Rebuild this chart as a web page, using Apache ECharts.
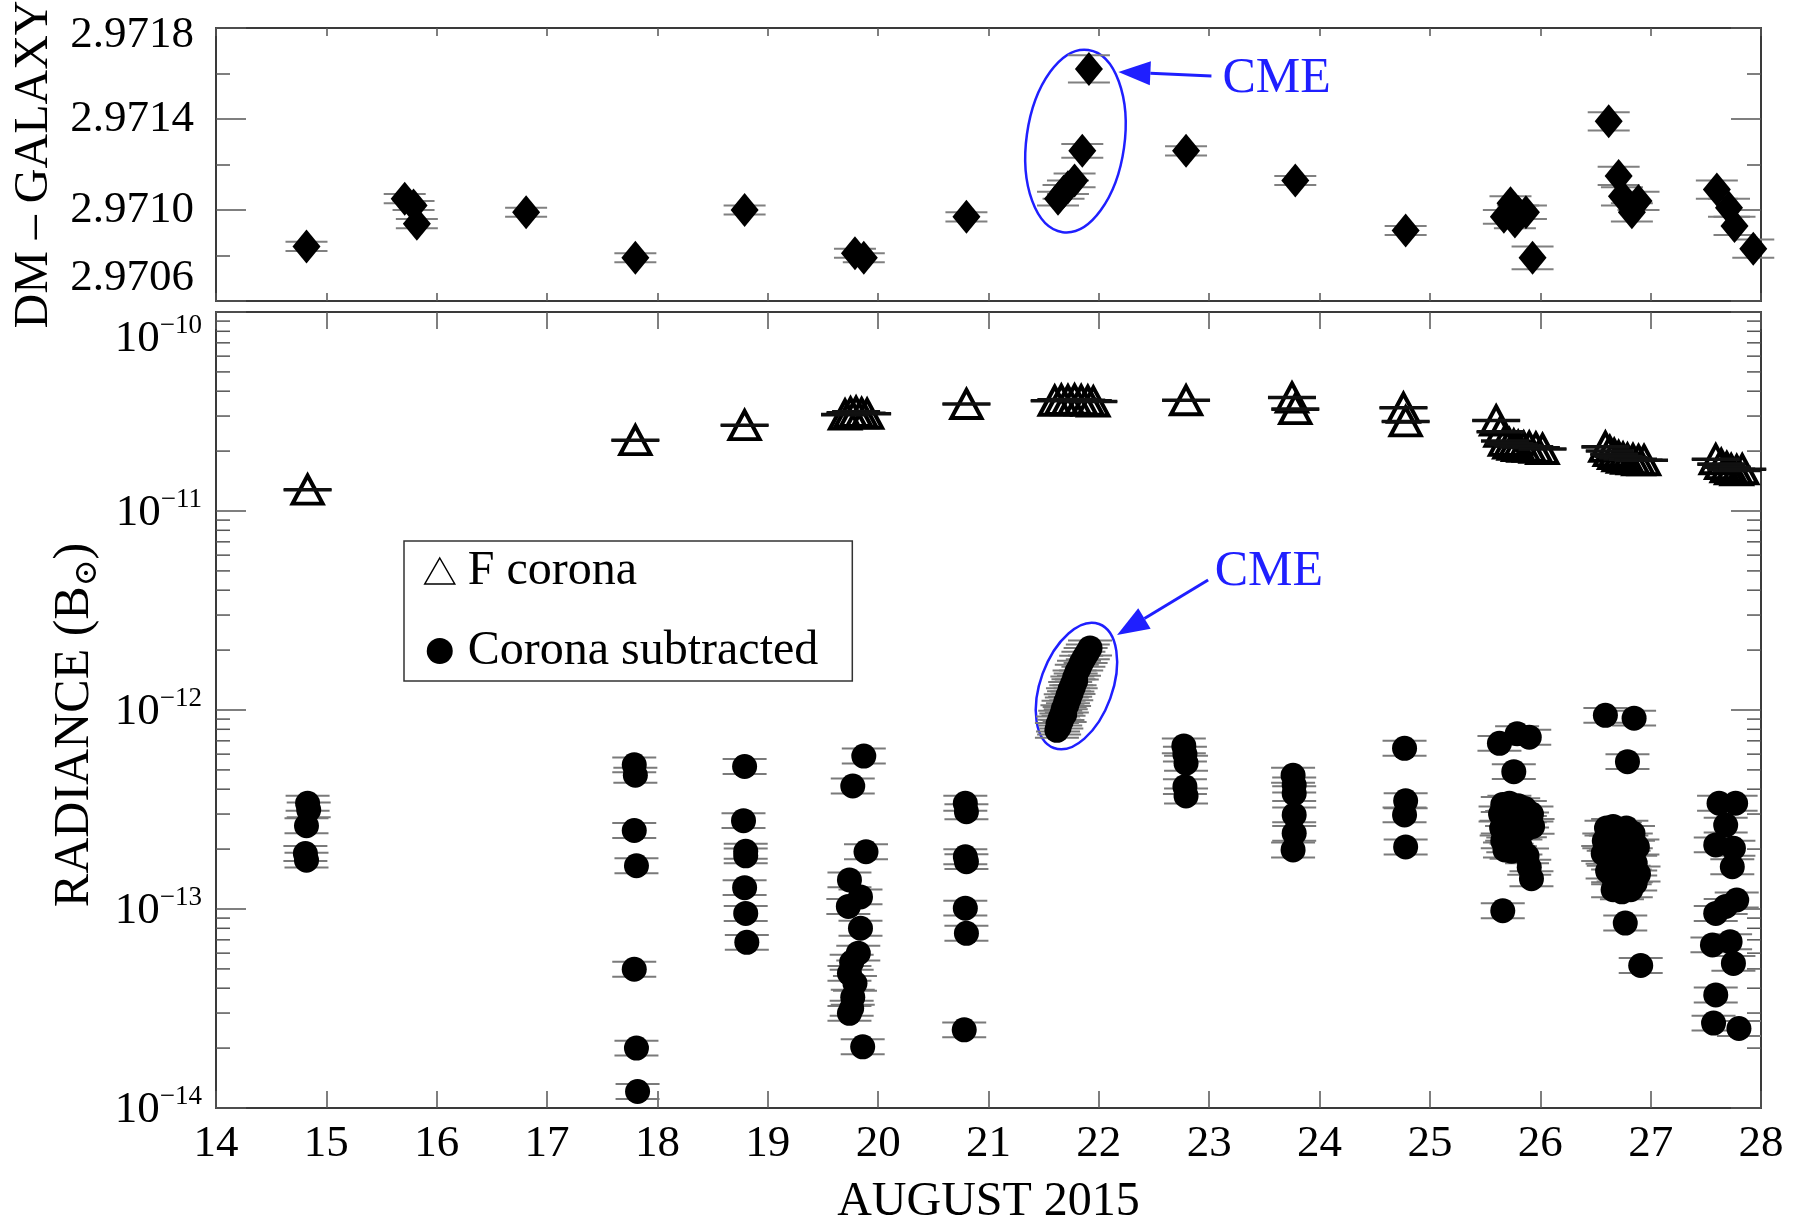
<!DOCTYPE html>
<html><head><meta charset="utf-8">
<script src="https://cdn.jsdelivr.net/npm/echarts@6/dist/echarts.min.js"></script>
<style>html,body{margin:0;padding:0;background:#fff}#c{width:1798px;height:1225px}</style>
</head><body><div id="c"></div>
<script>
// ---------------- data ----------------
const X_MIN = 14, X_MAX = 28;
const DM_TICKS = [2.9706, 2.9710, 2.9714, 2.9718];
const DM_BASE = 2.9706, DM_SCALE = 1e4;
// [day, DM - galaxy, error]
const DM_POINTS = [
  [14.82, 2.97084, 0.00002], [15.71, 2.97105, 0.00002], [15.79, 2.97102, 0.00002], [15.82, 2.97094, 0.00002],
  [16.81, 2.97099, 0.00002], [17.80, 2.97079, 0.00002], [18.79, 2.97100, 0.00002], [19.79, 2.97081, 0.00002],
  [19.87, 2.97079, 0.00002], [20.80, 2.97097, 0.00002],
  [21.63, 2.97105, 0.00003], [21.68, 2.97108, 0.00003], [21.72, 2.97110, 0.00003], [21.78, 2.97113, 0.00003],
  [21.85, 2.97126, 0.00003], [21.91, 2.97162, 0.00006],
  [22.79, 2.97126, 0.00002], [23.78, 2.97113, 0.00002], [24.78, 2.97091, 0.00002],
  [25.67, 2.97097, 0.00003], [25.73, 2.97103, 0.00003], [25.77, 2.97095, 0.00003], [25.80, 2.97099, 0.00003],
  [25.87, 2.97099, 0.00003], [25.93, 2.97079, 0.00005],
  [26.62, 2.97139, 0.00004], [26.71, 2.97115, 0.00004], [26.74, 2.97106, 0.00004], [26.83, 2.97099, 0.00004],
  [26.89, 2.97104, 0.00004],
  [27.60, 2.97109, 0.00004], [27.71, 2.97101, 0.00004], [27.76, 2.97093, 0.00004], [27.93, 2.97083, 0.00004]
];
// F corona [day, radiance]
const FC_POINTS = [
  [14.83, 1.28e-11], [17.80, 2.27e-11], [18.79, 2.70e-11],
  [19.70, 3.05e-11], [19.75, 3.12e-11], [19.80, 3.15e-11], [19.85, 3.10e-11], [19.90, 3.08e-11],
  [20.80, 3.45e-11],
  [21.60, 3.58e-11], [21.66, 3.62e-11], [21.72, 3.60e-11], [21.78, 3.63e-11], [21.84, 3.60e-11], [21.90, 3.58e-11], [21.95, 3.55e-11],
  [22.79, 3.60e-11],
  [23.75, 3.72e-11], [23.78, 3.25e-11],
  [24.76, 3.30e-11], [24.78, 2.82e-11],
  [25.60, 2.85e-11], [25.64, 2.50e-11], [25.68, 2.25e-11], [25.72, 2.18e-11], [25.76, 2.15e-11], [25.80, 2.12e-11],
  [25.85, 2.10e-11], [25.90, 2.10e-11], [25.96, 2.08e-11], [26.02, 2.05e-11],
  [26.59, 2.10e-11], [26.63, 2.00e-11], [26.67, 1.93e-11], [26.71, 1.88e-11], [26.75, 1.85e-11], [26.79, 1.83e-11],
  [26.84, 1.82e-11], [26.89, 1.80e-11], [26.94, 1.80e-11],
  [27.59, 1.82e-11], [27.64, 1.72e-11], [27.69, 1.66e-11], [27.73, 1.62e-11], [27.78, 1.60e-11], [27.83, 1.62e-11]
];
// Corona subtracted [day, radiance]
const CS_POINTS = [
  [14.83, 3.40e-13], [14.84, 3.15e-13], [14.82, 2.62e-13], [14.81, 1.90e-13], [14.82, 1.76e-13],
  [17.79, 5.3e-13], [17.80, 4.7e-13], [17.79, 2.48e-13], [17.81, 1.65e-13], [17.79, 4.98e-14], [17.81, 2.0e-14], [17.82, 1.21e-14],
  [18.79, 5.2e-13], [18.78, 2.78e-13], [18.80, 1.95e-13], [18.80, 1.85e-13], [18.79, 1.28e-13], [18.80, 9.5e-14], [18.81, 6.8e-14],
  [19.87, 5.87e-13], [19.77, 4.15e-13], [19.89, 1.94e-13], [19.74, 1.40e-13], [19.84, 1.15e-13], [19.73, 1.03e-13],
  [19.84, 8.0e-14], [19.82, 6.0e-14], [19.76, 5.4e-14], [19.74, 4.75e-14], [19.79, 4.23e-14], [19.77, 3.6e-14],
  [19.76, 3.17e-14], [19.74, 2.99e-14], [19.86, 2.03e-14],
  [20.79, 3.40e-13], [20.80, 3.08e-13], [20.79, 1.83e-13], [20.80, 1.73e-13], [20.79, 1.01e-13], [20.80, 7.55e-14], [20.78, 2.47e-14],
  [21.62, 7.9e-13], [21.63, 8.5e-13], [21.64, 8.2e-13], [21.65, 9.1e-13], [21.66, 8.8e-13], [21.67, 9.7e-13],
  [21.68, 1.02e-12], [21.69, 9.5e-13], [21.70, 1.10e-12], [21.71, 1.06e-12], [21.72, 1.18e-12], [21.73, 1.14e-12],
  [21.74, 1.27e-12], [21.75, 1.22e-12], [21.76, 1.35e-12], [21.77, 1.31e-12], [21.78, 1.45e-12], [21.79, 1.40e-12],
  [21.80, 1.55e-12], [21.82, 1.62e-12], [21.84, 1.72e-12], [21.86, 1.80e-12], [21.88, 1.88e-12], [21.90, 1.96e-12], [21.92, 2.05e-12],
  [22.77, 6.6e-13], [22.78, 6.0e-13], [22.79, 5.4e-13], [22.78, 4.12e-13], [22.79, 3.7e-13],
  [23.76, 4.7e-13], [23.77, 4.2e-13], [23.77, 3.8e-13], [23.77, 2.97e-13], [23.77, 2.4e-13], [23.76, 1.98e-13],
  [24.77, 6.42e-13], [24.78, 3.5e-13], [24.77, 2.97e-13], [24.78, 2.05e-13],
  [25.63, 6.8e-13], [25.79, 7.6e-13], [25.90, 7.3e-13], [25.76, 4.9e-13],
  [25.66, 3.35e-13], [25.72, 3.4e-13], [25.80, 3.3e-13], [25.86, 3.2e-13], [25.92, 3.0e-13],
  [25.64, 3.0e-13], [25.70, 2.85e-13], [25.76, 2.95e-13], [25.82, 2.75e-13], [25.88, 2.8e-13],
  [25.65, 2.55e-13], [25.70, 2.4e-13], [25.75, 2.6e-13], [25.80, 2.45e-13], [25.86, 2.5e-13], [25.93, 2.6e-13],
  [25.66, 2.2e-13], [25.71, 2.1e-13], [25.77, 2.25e-13], [25.82, 2.05e-13], [25.68, 1.98e-13], [25.74, 1.95e-13],
  [25.88, 1.85e-13], [25.90, 1.62e-13], [25.92, 1.42e-13], [25.66, 9.8e-14],
  [26.59, 9.4e-13], [26.85, 9.1e-13], [26.79, 5.5e-13],
  [26.60, 2.55e-13], [26.66, 2.6e-13], [26.72, 2.5e-13], [26.78, 2.55e-13], [26.84, 2.4e-13],
  [26.58, 2.2e-13], [26.64, 2.15e-13], [26.70, 2.25e-13], [26.76, 2.1e-13], [26.82, 2.2e-13], [26.88, 2.05e-13],
  [26.57, 1.9e-13], [26.62, 1.8e-13], [26.68, 1.85e-13], [26.74, 1.75e-13], [26.80, 1.8e-13], [26.86, 1.7e-13],
  [26.61, 1.55e-13], [26.66, 1.45e-13], [26.71, 1.5e-13], [26.76, 1.4e-13], [26.81, 1.45e-13], [26.86, 1.35e-13], [26.89, 1.5e-13],
  [26.66, 1.25e-13], [26.74, 1.22e-13], [26.82, 1.25e-13], [26.77, 8.5e-14], [26.91, 5.2e-14],
  [27.62, 3.4e-13], [27.77, 3.4e-13], [27.68, 2.64e-13], [27.59, 2.1e-13], [27.75, 2.02e-13], [27.74, 1.63e-13],
  [27.78, 1.11e-13], [27.59, 9.5e-14], [27.68, 1.03e-13], [27.56, 6.6e-14], [27.72, 6.85e-14], [27.75, 5.33e-14],
  [27.59, 3.7e-14], [27.57, 2.67e-14], [27.80, 2.51e-14]
];
const CS_ERR_FACTOR = 1.09;
const FC_ERR_FACTOR = 1.006;
const RAD_MIN = 1e-14, RAD_MAX = 1e-10;
const LOG_MINOR = [2e-14,3e-14,4e-14,5e-14,6e-14,7e-14,8e-14,9e-14,
  2e-13,3e-13,4e-13,5e-13,6e-13,7e-13,8e-13,9e-13,
  2e-12,3e-12,4e-12,5e-12,6e-12,7e-12,8e-12,9e-12,
  2e-11,3e-11,4e-11,5e-11,6e-11,7e-11,8e-11,9e-11];
// annotation anchors (data coordinates)
const CME_TOP = { center: [21.788, 2.971303], tail: [23.02, 2.971589], tip: [22.177, 2.971607], text: [23.12, 2.971575] };
const CME_BOT = { center: [21.797, 1.32e-12], tail: [22.99, 4.5e-12], tip: [22.165, 2.38e-12], text: [23.05, 4.95e-12] };

// ---------------- chart ----------------
const FONT = '"Liberation Serif", "DejaVu Serif", serif';
const BLUE = '#1f1fff';
const AX = '#3a3a3a';
const TICK_FS = 45, TITLE_FS = 48;
const tDM = v => (v - DM_BASE) * DM_SCALE;

const chart = echarts.init(document.getElementById('c'), null, { renderer: 'canvas' });

function capSeries(name, xi, yi, data, hw, color, lw, z) {
  return {
    type: 'custom', name, xAxisIndex: xi, yAxisIndex: yi, z, silent: true, clip: false,
    data,
    renderItem: function (params, api) {
      const x = api.value(0);
      const a = api.coord([x, api.value(1)]);
      const b = api.coord([x, api.value(2)]);
      const st = { stroke: color, lineWidth: lw };
      return { type: 'group', children: [
        { type: 'line', shape: { x1: a[0] - hw, y1: a[1], x2: a[0] + hw, y2: a[1] }, style: st },
        { type: 'line', shape: { x1: b[0] - hw, y1: b[1], x2: b[0] + hw, y2: b[1] }, style: st }
      ]};
    }
  };
}

const xBase = {
  type: 'value', min: X_MIN, max: X_MAX, interval: 1,
  axisLine: { show: true, onZero: false, lineStyle: { color: AX, width: 2 } },
  splitLine: { show: false }
};
function xAxisDef(grid, pos, tickLen, labels) {
  return Object.assign({}, xBase, {
    gridIndex: grid, position: pos,
    axisTick: { show: true, inside: true, length: tickLen, lineStyle: { color: '#555', width: 1.5 } },
    axisLabel: labels ? { show: true, color: '#000', fontFamily: FONT, fontSize: TICK_FS, margin: 14,
      showMinLabel: true, showMaxLabel: true } : { show: false }
  });
}
const dmY = {
  type: 'value', min: 0, max: tDM(2.9718), interval: 4,
  axisLine: { show: true, onZero: false, lineStyle: { color: AX, width: 2 } },
  axisTick: { show: true, inside: true, length: 30, lineStyle: { color: '#555', width: 1.5 } },
  minorTick: { show: true, splitNumber: 2, length: 14, lineStyle: { color: '#555', width: 1.5 } },
  splitLine: { show: false }, minorSplitLine: { show: false }
};
const radY = {
  type: 'log', logBase: 10, min: RAD_MIN, max: RAD_MAX,
  axisLine: { show: true, onZero: false, lineStyle: { color: AX, width: 2 } },
  axisTick: { show: true, inside: true, length: 30, lineStyle: { color: '#555', width: 1.5 } },
  splitLine: { show: false }
};

const option = {
  animation: false,
  backgroundColor: '#fff',
  grid: [
    { left: 216, right: 37, top: 28, height: 273, outerBoundsMode: 'none', containLabel: false },
    { left: 216, right: 37, top: 312, height: 796, outerBoundsMode: 'none', containLabel: false }
  ],
  xAxis: [
    xAxisDef(0, 'bottom', 8, false),
    xAxisDef(0, 'top', 8, false),
    Object.assign(xAxisDef(1, 'bottom', 17, true), {
      name: 'AUGUST 2015', nameLocation: 'middle', nameGap: 70,
      nameTextStyle: { color: '#000', fontFamily: FONT, fontSize: TITLE_FS }
    }),
    xAxisDef(1, 'top', 17, false)
  ],
  yAxis: [
    Object.assign({}, dmY, {
      gridIndex: 0, position: 'left',
      axisLabel: { show: true, color: '#000', fontFamily: FONT, fontSize: TICK_FS, margin: 22,
        showMinLabel: true, showMaxLabel: true, verticalAlignMinLabel: 'bottom',
        formatter: v => {
          const t = DM_TICKS.find(k => Math.abs(tDM(k) - v) < 1e-6);
          if (t === undefined) return '';
          return t === DM_TICKS[DM_TICKS.length - 1] ? '{m|' + t.toFixed(4) + '}' : t.toFixed(4);
        },
        rich: { m: { fontFamily: FONT, fontSize: TICK_FS, color: '#000', padding: [14, 0, 0, 0] } } },
      name: 'DM \u2013 GALAXY', nameLocation: 'middle', nameRotate: 90, nameGap: 158,
      nameTextStyle: { color: '#000', fontFamily: FONT, fontSize: TITLE_FS }
    }),
    Object.assign({}, dmY, { gridIndex: 0, position: 'right', axisLabel: { show: false } }),
    Object.assign({}, radY, {
      gridIndex: 1, position: 'left',
      axisLabel: { show: true, color: '#000', fontFamily: FONT, fontSize: TICK_FS, margin: 14,
        showMinLabel: true, showMaxLabel: true, verticalAlignMaxLabel: 'top',
        formatter: v => '{b|10}{s|\u2212' + Math.abs(Math.round(Math.log10(v))) + '}',
        rich: {
          b: { fontFamily: FONT, fontSize: TICK_FS, color: '#000', lineHeight: 50, verticalAlign: 'bottom' },
          s: { fontFamily: FONT, fontSize: 27, color: '#000', lineHeight: 50, verticalAlign: 'top', padding: [0, 0, 18, 0] }
        } },
      name: '{t|RADIANCE (B}{s|\u2299}{e|)}', nameLocation: 'middle', nameRotate: 90, nameGap: 112,
      nameTextStyle: { color: '#000', fontFamily: FONT, fontSize: 50,
        rich: { t: { fontFamily: FONT, fontSize: 50, color: '#000', lineHeight: 58 },
                e: { fontFamily: FONT, fontSize: 50, color: '#000', lineHeight: 58, padding: [0, 30, 0, 0] },
                s: { fontFamily: FONT, fontSize: 32, color: '#000', lineHeight: 58, verticalAlign: 'bottom', padding: [16, 0, 0, 0] } } }
    }),
    Object.assign({}, radY, { gridIndex: 1, position: 'right', axisLabel: { show: false } })
  ],
  legend: {
    orient: 'vertical', left: 404, top: 541,
    padding: [6, 34, 6, 20], itemGap: 32,
    backgroundColor: '#fff', borderColor: '#333', borderWidth: 1.5, borderRadius: 0,
    itemWidth: 30, itemHeight: 26,
    textStyle: { color: '#000', fontFamily: FONT, fontSize: 48, lineHeight: 48, padding: [0, 0, 0, 8] },
    data: [
      { name: 'F corona', icon: 'triangle', itemStyle: { color: '#fff', borderColor: '#000', borderWidth: 1.5 } },
      { name: 'Corona subtracted', icon: 'circle', itemStyle: { color: '#000', borderWidth: 0 } }
    ]
  },
  series: [
    capSeries('dmErr', 0, 0, DM_POINTS.map(p => [p[0], tDM(p[1] - p[2]), tDM(p[1] + p[2])]), 21, '#808080', 2, 2),
    {
      type: 'scatter', name: 'DM', xAxisIndex: 0, yAxisIndex: 0, z: 3,
      symbol: 'diamond', symbolSize: [28, 34],
      itemStyle: { color: '#000', opacity: 1 },
      data: DM_POINTS.map(p => [p[0], tDM(p[1])])
    },
    {
      type: 'custom', name: 'minorTicks', xAxisIndex: 2, yAxisIndex: 2, z: 5, silent: true, clip: false,
      data: LOG_MINOR.map(v => [X_MIN, v]),
      renderItem: function (params, api) {
        const cs = params.coordSys;
        const y = api.coord([api.value(0), api.value(1)])[1];
        const st = { stroke: '#555', lineWidth: 1.5 };
        return { type: 'group', children: [
          { type: 'line', shape: { x1: cs.x, y1: y, x2: cs.x + 14, y2: y }, style: st },
          { type: 'line', shape: { x1: cs.x + cs.width - 14, y1: y, x2: cs.x + cs.width, y2: y }, style: st }
        ]};
      }
    },
    capSeries('csErr', 2, 2, CS_POINTS.map(p => [p[0], p[1] / CS_ERR_FACTOR, p[1] * CS_ERR_FACTOR]), 22, '#7a7a7a', 2, 2),
    {
      type: 'scatter', name: 'Corona subtracted', xAxisIndex: 2, yAxisIndex: 2, z: 3,
      symbol: 'circle', symbolSize: 25,
      itemStyle: { color: '#000', opacity: 1 },
      data: CS_POINTS
    },
    {
      type: 'scatter', name: 'F corona', xAxisIndex: 2, yAxisIndex: 2, z: 3,
      symbol: 'triangle', symbolSize: [30, 28],
      itemStyle: { color: 'rgba(255,255,255,0)', borderColor: '#000', borderWidth: 4, opacity: 1 },
      data: FC_POINTS
    },
    capSeries('fcErr', 2, 2, FC_POINTS.map(p => [p[0], p[1] / FC_ERR_FACTOR, p[1] * FC_ERR_FACTOR]), 24, '#111', 2.5, 4)
  ]
};
chart.setOption(option);

// ---------------- CME annotations ----------------
function px(idx, v) {
  return chart.convertToPixel({ xAxisIndex: idx[0], yAxisIndex: idx[1] }, v);
}
function arrow(tail, tip, L, W) {
  const dx = tip[0] - tail[0], dy = tip[1] - tail[1];
  const len = Math.sqrt(dx * dx + dy * dy);
  const ux = dx / len, uy = dy / len;
  const bx = tip[0] - ux * L, by = tip[1] - uy * L;
  return [
    { type: 'line', shape: { x1: tail[0], y1: tail[1], x2: bx, y2: by }, style: { stroke: BLUE, lineWidth: 3 }, z: 100 },
    { type: 'polygon', shape: { points: [[tip[0], tip[1]], [bx - uy * W, by + ux * W], [bx + uy * W, by - ux * W]] },
      style: { fill: BLUE }, z: 100 }
  ];
}
const topIdx = [0, 0], botIdx = [2, 2];
const tc = px(topIdx, [CME_TOP.center[0], tDM(CME_TOP.center[1])]);
const tTail = px(topIdx, [CME_TOP.tail[0], tDM(CME_TOP.tail[1])]);
const tTip = px(topIdx, [CME_TOP.tip[0], tDM(CME_TOP.tip[1])]);
const tTxt = px(topIdx, [CME_TOP.text[0], tDM(CME_TOP.text[1])]);
const bc = px(botIdx, CME_BOT.center);
const bTail = px(botIdx, CME_BOT.tail);
const bTip = px(botIdx, CME_BOT.tip);
const bTxt = px(botIdx, CME_BOT.text);

const graphics = [
  { type: 'group', x: tc[0], y: tc[1], rotation: -8 * Math.PI / 180, z: 100,
    children: [{ type: 'ellipse', shape: { cx: 0, cy: 0, rx: 49, ry: 92 }, style: { fill: 'none', stroke: BLUE, lineWidth: 2.5 } }] },
  { type: 'group', x: bc[0], y: bc[1], rotation: -20 * Math.PI / 180, z: 100,
    children: [{ type: 'ellipse', shape: { cx: 0, cy: 0, rx: 36, ry: 66 }, style: { fill: 'none', stroke: BLUE, lineWidth: 2.5 } }] },
  { type: 'text', x: tTxt[0], y: tTxt[1], z: 100,
    style: { text: 'CME', fill: BLUE, fontFamily: FONT, fontSize: 50, align: 'left', verticalAlign: 'middle' } },
  { type: 'text', x: bTxt[0], y: bTxt[1], z: 100,
    style: { text: 'CME', fill: BLUE, fontFamily: FONT, fontSize: 50, align: 'left', verticalAlign: 'middle' } }
].concat(arrow(tTail, tTip, 32, 12), arrow(bTail, bTip, 32, 12));
chart.setOption({ graphic: graphics });
</script>
</body></html>
